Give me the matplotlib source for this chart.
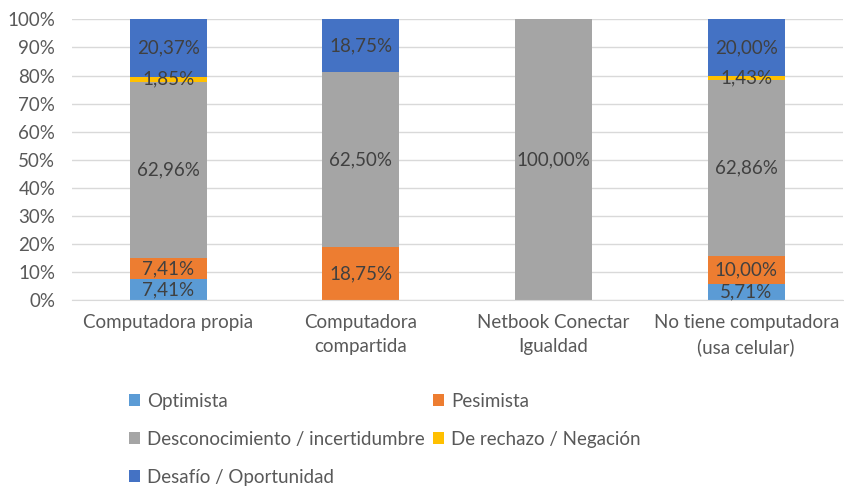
import matplotlib.pyplot as plt
import numpy as np

plt.rcParams['font.family'] = ['Lato', 'DejaVu Sans']

categorias = ['Computadora propia', 'Computadora\ncompartida',
              'Netbook Conectar\nIgualdad', 'No tiene computadora\n(usa celular)']
series = ['Optimista', 'Pesimista', 'Desconocimiento / incertidumbre',
          'De rechazo / Negación', 'Desafío / Oportunidad']
optimista = [7.41, 0.0, 0.0, 5.71]
pesimista = [7.41, 18.75, 0.0, 10.00]
desconocimiento = [62.96, 62.50, 100.0, 62.86]
rechazo = [1.85, 0.0, 0.0, 1.43]
desafio = [20.37, 18.75, 0.0, 20.00]

colores = ['#5B9BD5', '#ED7D31', '#A5A5A5', '#FFC000', '#4472C4']
valores = [optimista, pesimista, desconocimiento, rechazo, desafio]

fs = 13.5

fig = plt.figure(figsize=(8.44, 4.86), dpi=100)
ax = fig.add_axes([0.0853, 0.383, 0.913, 0.577])

x = np.arange(len(categorias))
base = np.zeros(len(categorias))
barras = []
for nombre, vals, col in zip(series, valores, colores):
    vals = np.array(vals)
    b = ax.bar(x, vals, bottom=base, width=0.4, color=col, label=nombre, zorder=2)
    barras.append(b)
    for xi, v, y0 in zip(x, vals, base):
        if v > 0:
            ax.text(xi, y0 + v / 2, f'{v:.2f}%'.replace('.', ','),
                    ha='center', va='center', fontsize=fs, color='#404040', zorder=3)
    base = base + vals

ax.set_xlim(-0.5, len(categorias) - 0.5)
ax.set_ylim(0, 100)
ax.set_yticks(np.arange(0, 101, 10))
ax.set_yticklabels([f'{v}%' for v in range(0, 101, 10)])
ax.set_xticks(x)
ax.set_xticklabels(categorias, linespacing=1.5)
ax.grid(axis='y', color='#D9D9D9', linewidth=1, zorder=0)
for s in ['top', 'right', 'left']:
    ax.spines[s].set_visible(False)
ax.spines['bottom'].set_color('#D9D9D9')
ax.tick_params(axis='both', length=0, labelsize=fs, colors='#595959')
ax.tick_params(axis='x', pad=10)
ax.tick_params(axis='y', pad=12)

orden = [0, 2, 4, 1, 3]
leg = fig.legend([barras[i] for i in orden], [series[i] for i in orden],
                 loc='upper left', bbox_to_anchor=(0.153, 0.192), ncol=2,
                 frameon=False, fontsize=fs, handlelength=0.6, handleheight=0.6,
                 handletextpad=0.35, labelspacing=1.12, columnspacing=0.45,
                 borderaxespad=0, borderpad=0)
for t in leg.get_texts():
    t.set_color('#595959')

fig.savefig('out.png', dpi=100)
